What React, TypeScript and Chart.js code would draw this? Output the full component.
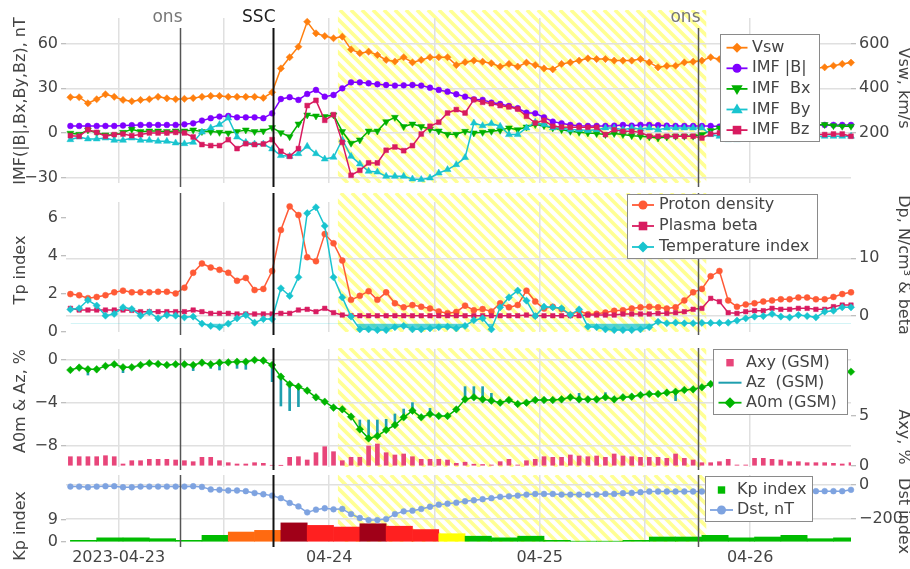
import React, { useEffect, useRef } from 'react';
import { Chart, registerables } from 'chart.js';
Chart.register(...registerables);

// Time axis: hours relative to 2023-04-23 00:00 UT. First hourly sample at 2023-04-22 18:30.
const T0 = -5.5;
const X_MIN = -6;
const X_MAX = 83.5;
const X_TICKS = [0, 12, 24, 36, 48, 60, 72];
const X_LABELS: Record<number, string> = { 0: '2023-04-23', 24: '04-24', 48: '04-25', 72: '04-26' };
const CLOUD_START = 25;
const CLOUD_END = 67;
const EVENTS = [
  { t: 7, label: 'ons' },
  { t: 17.6, label: 'SSC' },
  { t: 66, label: 'ons' },
];

// Panel 1
const VSW = [
  360, 360, 333, 351, 373, 362, 348, 342, 348, 351,
  362, 355, 351, 353, 356, 362, 366, 366, 362, 362,
  362, 362, 357, 382, 489, 539, 586, 698, 646, 634,
  624, 631, 574, 557, 564, 549, 527, 520, 539, 516,
  527, 539, 539, 539, 504, 517, 524, 519, 512, 497,
  509, 497, 515, 504, 489, 485, 509, 516, 524, 534,
  531, 531, 524, 524, 524, 531, 516, 494, 500, 501,
  516, 519, 524, 539, 530, 525, 518, 512, 508, 505,
  503, 500, 498, 495, 492, 490, 494, 501, 509, 515,
];
const BMAG = [
  4.7, 4.7, 4.7, 4.7, 4.7, 4.7, 5.0, 5.2, 5.4, 5.4,
  5.4, 5.4, 5.4, 5.8, 6.5, 8.3, 9.9, 11.0, 11.4, 10.5,
  10.5, 10.5, 9.9, 13.2, 22.8, 24.0, 22.2, 26.2, 28.9, 24.4,
  25.5, 30.0, 34.0, 34.0, 33.4, 32.7, 32.2, 31.8, 32.0, 32.2,
  31.8, 30.4, 28.9, 27.7, 26.0, 24.4, 22.6, 22.2, 20.4, 19.5,
  18.1, 16.6, 13.6, 13.2, 10.5, 7.6, 6.5, 5.4, 4.9, 4.7,
  4.7, 4.7, 4.9, 5.4, 4.9, 5.4, 5.4, 5.2, 4.9, 4.7,
  4.7, 4.7, 4.7, 4.7, 4.3, 4.5, 4.6, 4.8, 5.0, 5.1,
  5.2, 5.2, 5.3, 5.3, 5.4, 5.4, 5.4, 5.4, 5.4, 5.4,
];
const BX = [
  -0.2, -0.9, 2.0, 0.2, -1.3, -1.3, 0.4, 2.5, 0.9, 1.3,
  1.3, 0.9, 1.3, 1.3, 2.0, 0.9, 0.9, 0.4, 0.0, 0.9,
  2.0, 0.9, 1.3, 3.6, 0.2, -2.5, 6.0, 12.1, 11.4, 11.0,
  12.1, 1.0, -6.9, -4.7, 1.3, 1.3, 7.6, 10.5, 4.3, 6.0,
  4.3, 2.5, 1.3, -0.9, -0.9, 1.1, 0.0, 0.4, 1.1, 1.8,
  3.4, 2.2, 4.0, 5.6, 4.9, 3.4, 2.2, 1.1, 0.4, 0.0,
  -0.4, -1.1, -0.4, -1.1, -1.8, -2.2, -2.7, -3.4, -2.7, -2.2,
  -2.2, -2.2, -1.1, 1.6, 3.4, 3.0, 3.5, 4.0, 4.0, 4.5,
  5.0, 5.0, 5.0, 5.0, 5.2, 5.4, 5.6, 4.9, 4.5, 4.5,
];
const BY = [
  -4.5, -2.7, -4.0, -4.0, -3.4, -4.9, -4.9, -3.4, -4.9, -4.9,
  -5.6, -5.6, -6.7, -7.2, -6.3, 0.6, 3.4, 5.6, 10.0, -2.7,
  -6.3, -7.4, -7.4, -10.7, -15.2, -15.7, -13.9, -9.0, -13.9, -17.5,
  -16.3, -4.5, -15.7, -20.8, -25.7, -26.2, -29.1, -29.1, -29.1, -30.9,
  -31.3, -30.2, -26.9, -24.6, -21.3, -16.5, 6.7, 4.9, 6.3, 4.5,
  -1.1, -1.1, 3.4, 7.2, 5.6, 3.4, 3.4, 2.2, 2.2, 1.6,
  2.2, 3.4, 3.4, 2.2, 3.4, 2.7, 3.4, 2.2, 3.4, 3.4,
  3.4, 3.4, 3.4, -1.1, -2.2, -4.5, -4.5, -4.0, -3.5, -3.5,
  -3.0, -3.0, -3.0, -2.5, -2.5, -2.5, -2.2, -2.2, -2.2, -2.2,
];
const BZ = [
  -1.8, -2.2, 2.2, 0.4, -2.2, -1.1, -0.7, -1.8, -1.1, 0.0,
  0.0, 0.0, 0.4, 0.0, -2.7, -7.8, -8.5, -8.5, -4.5, -10.5,
  -7.2, -7.8, -7.4, -4.5, -12.3, -15.7, -10.5, 18.4, 21.9, 8.5,
  12.3, -6.3, -28.4, -25.1, -20.1, -20.1, -11.6, -9.4, -11.9, -8.5,
  -0.7, 4.5, 7.2, 13.4, 15.7, 13.4, 22.4, 20.6, 19.7, 18.4,
  17.5, 16.1, 11.2, 6.7, 8.5, 4.5, 4.0, 3.8, 3.8, 3.8,
  3.8, -1.1, 2.2, 1.1, 1.1, 0.4, -2.2, -2.2, -2.2, -2.2,
  -2.2, -2.2, -3.4, -0.7, 0.0, -0.5, -1.0, -1.0, -1.5, -1.0,
  -1.0, -0.5, -1.0, -1.0, -1.2, -1.1, -1.1, -0.7, -0.7, -2.2,
];

// Panel 2
const NP = [
  3.8, 3.6, 3.1, 3.3, 3.6, 4.1, 4.4, 4.1, 4.1, 4.1,
  4.2, 4.2, 3.9, 4.9, 7.5, 9.1, 8.4, 8.0, 7.5, 6.1,
  6.6, 4.5, 4.7, 7.8, 14.9, 19.0, 17.5, 10.2, 9.5, 14.2,
  12.6, 9.6, 2.8, 3.5, 4.3, 2.8, 4.1, 2.2, 1.5, 1.9,
  1.6, 1.3, 0.8, 0.5, 0.7, 1.8, 1.0, 1.2, 0.8, 2.2,
  1.5, 1.9, 4.4, 2.5, 1.3, 1.6, 1.2, 0.2, 0.9, 0.3,
  0.4, 0.6, 0.9, 1.0, 1.3, 1.5, 1.6, 1.5, 1.3, 1.5,
  2.7, 4.1, 4.7, 6.9, 7.8, 2.7, 1.6, 2.0, 2.2, 2.5,
  2.7, 2.9, 2.9, 3.2, 3.2, 2.9, 2.9, 3.3, 3.8, 4.1,
];
const BETA = [
  1.33, 1.04, 1.04, 1.04, 1.04, 1.04, 1.04, 0.98, 0.75, 0.75,
  0.75, 0.75, 0.75, 0.75, 1.04, 0.75, 0.46, 0.46, 0.46, 0.35,
  0.35, 0.35, 0.35, 0.35, 0.46, 0.46, 1.04, 1.16, 0.75, 1.33,
  0.58, 0.17, 0.05, 0.05, 0.05, 0.05, 0.05, 0.05, 0.05, 0.05,
  0.05, 0.05, 0.05, 0.05, 0.05, 0.05, 0.05, 0.05, 0.05, 0.05,
  0.05, 0.05, 0.17, 0.05, 0.05, 0.05, 0.05, 0.05, 0.05, 0.17,
  0.17, 0.17, 0.17, 0.35, 0.35, 0.35, 0.35, 0.46, 0.46, 0.58,
  0.75, 1.16, 1.33, 3.06, 2.49, 0.58, 0.46, 0.75, 0.92, 0.92,
  1.33, 1.16, 1.16, 1.33, 1.33, 1.16, 1.16, 1.62, 1.9, 1.9,
];
const TP = [
  1.19, 1.25, 1.68, 1.39, 0.86, 0.95, 1.3, 1.21, 0.86, 1.04,
  0.72, 0.89, 0.86, 0.77, 0.81, 0.44, 0.32, 0.25, 0.44, 0.72,
  0.89, 0.49, 0.68, 0.68, 2.3, 1.9, 2.88, 6.25, 6.56, 5.58,
  2.88, 1.82, 0.81, 0.14, 0.14, 0.1, 0.1, 0.25, 0.32, 0.14,
  0.14, 0.19, 0.25, 0.28, 0.19, 0.32, 0.62, 0.72, 0.14, 1.3,
  1.82, 2.18, 1.65, 0.84, 1.33, 1.3, 1.25, 0.9, 1.19, 0.28,
  0.25, 0.14, 0.1, 0.1, 0.1, 0.14, 0.25, 0.54, 0.46, 0.49,
  0.46, 0.46, 0.48, 0.48, 0.48, 0.49, 0.6, 0.72, 0.81, 0.84,
  0.95, 0.81, 0.77, 0.89, 0.84, 0.77, 1.07, 1.12, 1.3, 1.3,
];
const TP_LOW = 0.45;

// Panel 3
const AXY = [
  0.93, 0.93, 0.93, 0.93, 1.03, 0.93, 0.2, 0.53, 0.53, 0.67,
  0.67, 0.67, 0.6, 0.53, 0.43, 0.87, 0.87, 0.53, 0.33, 0.2,
  0.2, 0.33, 0.27, 0.07, 0.05, 0.87, 0.93, 0.6, 1.33, 1.93,
  1.43, 0.53, 0.87, 0.87, 2.0, 2.2, 1.33, 1.1, 1.2, 0.93,
  0.67, 0.67, 0.67, 0.6, 0.27, 0.38, 0.18, 0.15, 0.1, 0.43,
  0.67, 0.1, 0.53, 0.67, 0.93, 0.87, 0.87, 1.1, 1.0, 0.93,
  1.0, 0.87, 1.2, 1.0, 0.93, 0.87, 0.87, 0.87, 0.77, 1.2,
  0.77, 0.6, 0.33, 0.33, 0.43, 0.67, 0.1, 0.1, 0.77, 0.77,
  0.67, 0.6, 0.43, 0.43, 0.33, 0.33, 0.33, 0.27, 0.2, 0.33,
];
const A0M = [
  -0.93, -0.71, -0.87, -0.87, -0.56, -0.4, -0.68, -0.68, -0.47, -0.31,
  -0.37, -0.47, -0.4, -0.4, -0.47, -0.25, -0.4, -0.25, -0.22, -0.16,
  -0.16, 0.0, -0.06, -0.47, -1.55, -2.26, -2.48, -2.85, -3.47, -3.88,
  -4.43, -4.59, -5.27, -6.45, -7.29, -7.07, -6.51, -6.05, -5.33, -4.71,
  -5.33, -5.02, -5.21, -5.21, -4.6, -3.66, -3.47, -3.66, -3.78, -3.97,
  -3.72, -4.09, -3.97, -3.72, -3.72, -3.72, -3.66, -3.47, -3.66, -3.66,
  -3.66, -3.47, -3.66, -3.47, -3.41, -3.26, -3.16, -3.16, -3.04, -2.95,
  -2.79, -2.73, -2.54, -2.23, -2.1, -2.0, -1.9, -1.85, -1.8, -1.7,
  -1.65, -1.6, -1.5, -1.45, -1.4, -1.35, -1.3, -1.2, -1.15, -1.09,
];
const AZ = [
  -0.93, -0.71, -1.4, -0.87, -0.56, -0.4, -1.18, -0.68, -0.47, -0.31,
  -0.37, -0.47, -0.4, -0.4, -0.99, -0.25, -0.78, -0.93, -0.22, -0.78,
  -0.87, 0.0, -0.06, -2.02, -4.28, -4.71, -4.34, -2.85, -3.72, -3.88,
  -4.43, -4.59, -5.27, -5.58, -5.58, -5.58, -5.52, -5.02, -4.56, -3.97,
  -5.33, -4.5, -5.21, -5.21, -4.6, -2.48, -2.48, -2.48, -3.1, -3.97,
  -3.72, -4.09, -3.97, -3.72, -3.72, -3.72, -3.66, -3.47, -3.1, -3.66,
  -3.66, -3.04, -3.66, -3.47, -3.41, -3.26, -3.16, -3.16, -3.04, -3.78,
  -2.79, -2.73, -2.54, -2.23, -2.1, -2.0, -1.9, -1.85, -1.8, -1.7,
  -1.65, -1.6, -1.5, -1.45, -1.4, -1.35, -1.3, -1.2, -1.15, -1.09,
];

// Panel 4
const DST = [
  -12, -12, -16, -12, -10, -10, -16, -16, -12, -12,
  -12, -12, -12, -12, -10, -14, -29, -31, -35, -35,
  -39, -50, -57, -65, -80, -108, -128, -163, -147, -139,
  -145, -143, -173, -196, -208, -208, -202, -173, -157, -153,
  -143, -130, -118, -112, -106, -98, -92, -86, -80, -72,
  -69, -65, -59, -55, -55, -55, -59, -59, -59, -59,
  -59, -55, -55, -51, -49, -45, -41, -41, -41, -41,
  -41, -41, -41, -41, -40, -40, -39, -39, -38, -38,
  -38, -39, -39, -39, -39, -39, -39, -39, -39, -31,
];
const KP_T0 = -5.5; // start of first 3-hour Kp bin
const KP = [
  0.67, 1.67, 1.67, 1.33, 0.67, 2.67, 4.0, 4.67, 7.67, 6.67,
  6.0, 7.33, 6.33, 5.0, 3.33, 2.33, 1.67, 2.33, 0.67, 0.33,
  0.33, 0.67, 2.0, 2.0, 2.67, 1.67, 2.0, 2.67, 1.33, 1.67,
];

// Axis ticks
const IMF_TICKS = [-30, 0, 30, 60];
const VSW_TICKS = [200, 400, 600];
const TP_TICKS = [0, 2, 4, 6];
const DP_TICKS = [0, 10];
const A0M_TICKS = [-8, -4, 0];
const AXY_TICKS = [0, 5];
const KP_TICKS = [0, 9];
const DST_TICKS = [-200, 0];

// Styles
const FONT = "'DejaVu Sans', sans-serif";
const TXT = '#444';
const GRID = '#e0e0e0';
const TICKC = '#aaa';
const HATCH = 'rgba(255,255,0,0.42)';
const C = {
  vsw: '#ff7f0e', bmag: '#7f00ff', bx: '#00b000', by: '#19c4cf', bz: '#d81b60',
  np: '#ff5a36', beta: '#d81b60', tp: '#19c4cf', tpFill: 'rgba(25,196,207,0.75)',
  axy: '#e8457a', az: '#1f9fae', a0m: '#00b400', dst: '#7ea3e0',
};
const KP_COLORS = ['#00bb00', '#ffff00', '#ff6a10', '#ff2020', '#a00018'];
const kpColor = (v: number) => (v >= 7 ? KP_COLORS[4] : v >= 5 ? KP_COLORS[3] : v >= 4 ? KP_COLORS[2] : v >= 3 ? KP_COLORS[1] : KP_COLORS[0]);

const fmt = (v: number) => (v < 0 ? '\u2212' + Math.abs(v) : String(v));
const pts = (arr: number[]) => arr.map((v, i) => ({ x: T0 + i, y: v }));

function xScale(showLabels: boolean) {
  return {
    type: 'linear', min: X_MIN, max: X_MAX, offset: false,
    afterBuildTicks: (s: any) => { s.ticks = X_TICKS.map((v) => ({ value: v })); },
    afterFit: (s: any) => { s.height = showLabels ? 27 : 0; },
    grid: { color: GRID, lineWidth: 1.5, drawTicks: false, offset: false },
    border: { display: false },
    ticks: {
      display: showLabels, autoSkip: false, maxRotation: 0, padding: 6, color: TXT,
      font: { family: FONT, size: 16 },
      callback: (v: number) => X_LABELS[v] ?? '',
    },
  };
}

function yScale(pos: 'left' | 'right', min: number, max: number, ticks: number[], gridOn: boolean) {
  return {
    type: 'linear', position: pos, min, max,
    afterBuildTicks: (s: any) => { s.ticks = ticks.map((v) => ({ value: v })); },
    afterFit: (s: any) => { s.width = pos === 'left' ? 66 : 59; },
    grid: { drawOnChartArea: gridOn, color: GRID, lineWidth: 1.5, drawTicks: true, tickLength: 5, tickColor: TICKC, tickWidth: 1 },
    border: { display: false },
    ticks: { autoSkip: false, color: TXT, font: { family: FONT, size: 16 }, padding: 3, callback: (v: number) => fmt(v) },
    title: { display: false },
  };
}

function lineDS(label: string, values: number[], axis: string, color: string, style: string, r: number, order: number, rot = 0) {
  return {
    type: 'line', label, data: pts(values), yAxisID: axis,
    borderColor: color, backgroundColor: color, borderWidth: 1.5, tension: 0,
    pointStyle: style, pointRadius: r, pointRotation: rot, pointBorderWidth: 0.5,
    pointBorderColor: color, pointBackgroundColor: color, fill: false, order, clip: 6,
  };
}

function drawMarker(ctx: CanvasRenderingContext2D, style: string, x: number, y: number, r: number, color: string, rot = 0) {
  ctx.save();
  ctx.fillStyle = color;
  ctx.translate(x, y);
  ctx.rotate((rot * Math.PI) / 180);
  ctx.beginPath();
  if (style === 'circle') ctx.arc(0, 0, r, 0, Math.PI * 2);
  else if (style === 'rectRot') { ctx.moveTo(0, -r); ctx.lineTo(r, 0); ctx.lineTo(0, r); ctx.lineTo(-r, 0); ctx.closePath(); }
  else if (style === 'rect') ctx.rect(-r, -r, 2 * r, 2 * r);
  else if (style === 'triangle') { ctx.moveTo(0, -r); ctx.lineTo(r * 0.95, r * 0.62); ctx.lineTo(-r * 0.95, r * 0.62); ctx.closePath(); }
  ctx.fill();
  ctx.restore();
}

function decor(cfg: any) {
  return {
    id: 'decor' + cfg.id,
    beforeDraw(chart: any) {
      const { ctx, chartArea: ca, scales } = chart;
      const x = scales.x;
      const x0 = x.getPixelForValue(CLOUD_START);
      const x1 = x.getPixelForValue(CLOUD_END);
      const top = ca.top + cfg.hatch[0];
      const bot = ca.bottom + cfg.hatch[1];
      const H = bot - top;
      ctx.save();
      ctx.beginPath();
      ctx.rect(x0, top, x1 - x0, H);
      ctx.clip();
      ctx.strokeStyle = HATCH;
      ctx.lineWidth = 3.6;
      ctx.beginPath();
      for (let s = x0 - H - 12; s < x1 + 12; s += 11) {
        ctx.moveTo(s, top);
        ctx.lineTo(s + H, bot);
      }
      ctx.stroke();
      ctx.restore();
    },
    afterDatasetsDraw(chart: any) {
      const { ctx, chartArea: ca, scales } = chart;
      const x = scales.x;
      EVENTS.forEach((ev) => {
        const ssc = ev.label === 'SSC';
        const px = Math.round(x.getPixelForValue(ev.t)) + 0.5;
        ctx.save();
        ctx.strokeStyle = ssc ? '#111' : '#555';
        ctx.lineWidth = ssc ? 2 : 1.5;
        ctx.beginPath();
        ctx.moveTo(px, ca.top + cfg.lines[0]);
        ctx.lineTo(px, ca.bottom + cfg.lines[1]);
        ctx.stroke();
        if (cfg.eventLabels) {
          ctx.font = `17px ${FONT}`;
          ctx.fillStyle = ssc ? '#222' : '#777';
          ctx.textAlign = 'right';
          ctx.textBaseline = 'middle';
          ctx.fillText(ev.label, px + 2, ca.top - 0.5);
        }
        ctx.restore();
      });
    },
    afterDraw(chart: any) {
      const { ctx } = chart;
      ctx.save();
      ctx.font = `16px ${FONT}`;
      ctx.fillStyle = TXT;
      ctx.textAlign = 'center';
      ctx.textBaseline = 'middle';
      const t = cfg.titles;
      ctx.save(); ctx.translate(20.5, t.leftY); ctx.rotate(-Math.PI / 2); ctx.fillText(t.left, 0, 0); ctx.restore();
      ctx.save(); ctx.translate(903, t.rightY); ctx.rotate(Math.PI / 2); ctx.fillText(t.right, 0, 0); ctx.restore();

      const L = cfg.legend;
      ctx.fillStyle = '#fff';
      ctx.fillRect(L.x, L.y, L.w, L.h);
      ctx.strokeStyle = '#8a8a8a';
      ctx.lineWidth = 1;
      ctx.strokeRect(L.x + 0.5, L.y + 0.5, L.w - 1, L.h - 1);
      L.items.forEach((it: any, k: number) => {
        const cy = L.y + L.first + k * L.row;
        if (it.line) {
          ctx.strokeStyle = it.color;
          ctx.lineWidth = it.lw || 1.8;
          ctx.beginPath();
          ctx.moveTo(L.mx - L.half, cy);
          ctx.lineTo(L.mx + L.half, cy);
          ctx.stroke();
        }
        if (it.marker) drawMarker(ctx, it.marker, L.mx, cy, it.r, it.color, it.rot || 0);
        ctx.fillStyle = TXT;
        ctx.textAlign = 'left';
        ctx.textBaseline = 'middle';
        ctx.font = `16px ${FONT}`;
        ctx.fillText(it.label, L.tx, cy);
      });
      ctx.restore();
    },
  };
}

function baseOptions(p: any) {
  return {
    responsive: false, maintainAspectRatio: false, animation: false, devicePixelRatio: 1, events: [],
    layout: { padding: { top: p.top, bottom: p.bottom, left: 0, right: 0 } },
    plugins: { legend: { display: false }, tooltip: { enabled: false } },
    scales: { x: xScale(p.xLabels), yL: p.yL, yR: p.yR },
  };
}

function panel1(): any {
  return {
    type: 'line',
    data: {
      datasets: [
        lineDS('Vsw', VSW, 'yR', C.vsw, 'rectRot', 3.6, 5),
        lineDS('IMF |B|', BMAG, 'yL', C.bmag, 'circle', 2.9, 4),
        lineDS('IMF  Bx', BX, 'yL', C.bx, 'triangle', 4, 3, 180),
        lineDS('IMF  By', BY, 'yL', C.by, 'triangle', 4, 2),
        lineDS('IMF  Bz', BZ, 'yL', C.bz, 'rect', 3.4, 1),
      ],
    },
    options: baseOptions({
      top: 18, bottom: 386, xLabels: false,
      yL: yScale('left', -33.6, 77.2, IMF_TICKS, true),
      yR: yScale('right', -24, 714.7, VSW_TICKS, false),
    }),
    plugins: [decor({
      id: 1, hatch: [-8, 0], lines: [10, 4], eventLabels: true,
      titles: { left: 'IMF(|B|,Bx,By,Bz), nT', leftY: 101, right: 'Vsw, km/s', rightY: 88 },
      legend: {
        x: 720, y: 34, w: 100, h: 108, first: 13.7, row: 20.6, mx: 737, half: 10.5, tx: 752,
        items: [
          { label: 'Vsw', color: C.vsw, line: true, marker: 'rectRot', r: 5 },
          { label: 'IMF |B|', color: C.bmag, line: true, marker: 'circle', r: 4.5 },
          { label: 'IMF  Bx', color: C.bx, line: true, marker: 'triangle', r: 6, rot: 180 },
          { label: 'IMF  By', color: C.by, line: true, marker: 'triangle', r: 6 },
          { label: 'IMF  Bz', color: C.bz, line: true, marker: 'rect', r: 4.3 },
        ],
      },
    })],
  };
}

function panel2(): any {
  const tp: any = lineDS('Temperature index', TP, 'yL', C.tp, 'rectRot', 3.6, 1);
  tp.fill = { target: { value: TP_LOW }, above: 'rgba(0,0,0,0)', below: C.tpFill };
  return {
    type: 'line',
    data: {
      datasets: [
        lineDS('Proton density', NP, 'yR', C.np, 'circle', 3, 3),
        lineDS('Plasma beta', BETA, 'yR', C.beta, 'rect', 3.2, 2),
        tp,
      ],
    },
    options: baseOptions({
      top: 202, bottom: 237, xLabels: false,
      yL: yScale('left', 0, 6.84, TP_TICKS, false),
      yR: yScale('right', -2.77, 19.76, DP_TICKS, true),
    }),
    plugins: [decor({
      id: 2, hatch: [-9, 0], lines: [-9, 3], eventLabels: false,
      titles: { left: 'Tp index', leftY: 270, right: 'Dp, N/cm\u00b3 & beta', rightY: 265 },
      legend: {
        x: 627, y: 194, w: 191, h: 65, first: 11, row: 21, mx: 643, half: 11, tx: 659,
        items: [
          { label: 'Proton density', color: C.np, line: true, marker: 'circle', r: 4.5 },
          { label: 'Plasma beta', color: C.beta, line: true, marker: 'rect', r: 4.3 },
          { label: 'Temperature index', color: C.tp, line: true, marker: 'rectRot', r: 5.5 },
        ],
      },
    })],
  };
}

function panel3(): any {
  return {
    type: 'line',
    data: {
      datasets: [
        lineDS('A0m (GSM)', A0M, 'yL', C.a0m, 'rectRot', 3.8, 1),
        {
          type: 'bar', label: 'Az  (GSM)', yAxisID: 'yL', grouped: false, order: 2,
          data: A0M.map((v, i) => ({ x: T0 + i, y: [v, AZ[i]] })),
          backgroundColor: C.az, borderWidth: 0, barThickness: 2,
        },
        {
          type: 'bar', label: 'Axy (GSM)', yAxisID: 'yR', grouped: false, order: 3,
          data: pts(AXY), backgroundColor: C.axy, borderWidth: 0, barThickness: 4,
        },
      ],
    },
    options: baseOptions({
      top: 349, bottom: 102, xLabels: false,
      yL: yScale('left', -9.95, 1.02, A0M_TICKS, true),
      yR: yScale('right', -0.1, 11.7, AXY_TICKS, false),
    }),
    plugins: [decor({
      id: 3, hatch: [-1, 0], lines: [-1, 3], eventLabels: false,
      titles: { left: 'A0m & Az, %', leftY: 401, right: 'Axy, %', rightY: 437 },
      legend: {
        x: 713, y: 349, w: 135, h: 66, first: 13.7, row: 20, mx: 730, half: 11.5, tx: 746,
        items: [
          { label: 'Axy (GSM)', color: C.axy, line: false, marker: 'rect', r: 3.7 },
          { label: 'Az  (GSM)', color: C.az, line: true, lw: 2 },
          { label: 'A0m (GSM)', color: C.a0m, line: true, marker: 'rectRot', r: 5.5 },
        ],
      },
    })],
  };
}

function panel4(): any {
  return {
    type: 'line',
    data: {
      datasets: [
        lineDS('Dst, nT', DST, 'yR', C.dst, 'circle', 2.9, 1),
        {
          type: 'bar', label: 'Kp index', yAxisID: 'yL', grouped: false, order: 2,
          data: KP.map((v, k) => ({ x: KP_T0 + 1.5 + 3 * k, y: v })),
          backgroundColor: KP.map(kpColor), borderWidth: 0,
          barPercentage: 1, categoryPercentage: 1,
        },
      ],
    },
    options: baseOptions({
      top: 475, bottom: 0, xLabels: true,
      yL: yScale('left', 0, 26.9, KP_TICKS, false),
      yR: yScale('right', -336.3, 55.6, DST_TICKS, true),
    }),
    plugins: [decor({
      id: 4, hatch: [0, 0], lines: [0, 5], eventLabels: false,
      titles: { left: 'Kp index', leftY: 526, right: 'Dst index', rightY: 516 },
      legend: {
        x: 705, y: 476, w: 108, h: 46, first: 14, row: 20, mx: 721.5, half: 11.5, tx: 737,
        items: [
          { label: 'Kp index', color: KP_COLORS[0], line: false, marker: 'rect', r: 3.7 },
          { label: 'Dst, nT', color: C.dst, line: true, marker: 'circle', r: 4.5 },
        ],
      },
    })],
  };
}

const PANELS = [panel1, panel2, panel3, panel4];

export default function App() {
  const r1 = useRef<HTMLCanvasElement>(null);
  const r2 = useRef<HTMLCanvasElement>(null);
  const r3 = useRef<HTMLCanvasElement>(null);
  const r4 = useRef<HTMLCanvasElement>(null);
  const refs = [r1, r2, r3, r4];
  useEffect(() => {
    const charts = PANELS.map((p, i) => new Chart(refs[i].current as HTMLCanvasElement, p()));
    return () => charts.forEach((c) => c.destroy());
  }, []);
  return (
    <div style={{ position: 'fixed', left: 0, top: 0, width: 910, height: 569, background: '#fff', overflow: 'hidden' }}>
      {refs.map((r, i) => (
        <canvas key={i} ref={r} width={910} height={569}
          style={{ position: 'absolute', left: 0, top: 0, width: 910, height: 569 }} />
      ))}
    </div>
  );
}
